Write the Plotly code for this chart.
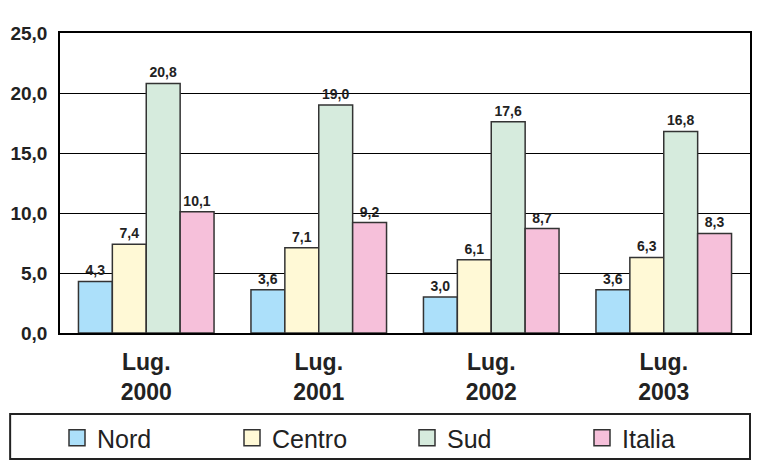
import plotly.graph_objects as go

categories = ["Lug.<br>2000", "Lug.<br>2001", "Lug.<br>2002", "Lug.<br>2003"]
nord = [4.3, 3.6, 3.0, 3.6]
centro = [7.4, 7.1, 6.1, 6.3]
sud = [20.8, 19.0, 17.6, 16.8]
italia = [10.1, 9.2, 8.7, 8.3]
series_names = ["Nord", "Centro", "Sud", "Italia"]
y_ticks = [0, 5, 10, 15, 20, 25]

colors = ["#ACE0FA", "#FFF9D6", "#D6EBDD", "#F6C0DA"]
edge = "#333333"

fig = go.Figure()
for name, vals, col in zip(series_names, [nord, centro, sud, italia], colors):
    fig.add_trace(go.Bar(
        x=categories, y=vals, name=name, showlegend=False,
        marker=dict(color=col, line=dict(color=edge, width=1.5)),
        texttemplate="%{y:.1f}", textposition="outside", cliponaxis=False,
        textfont=dict(family="Liberation Sans", size=14, color="#222222", weight="bold"),
    ))
# legend entries
for name, col in zip(series_names, colors):
    fig.add_trace(go.Scatter(
        x=[None], y=[None], mode="markers", name=name,
        marker=dict(symbol="square", size=16, color=col, line=dict(color=edge, width=1.5)),
    ))

fig.update_layout(
    width=757, height=467,
    margin=dict(l=60, r=5, t=33, b=134),
    paper_bgcolor="white", plot_bgcolor="white",
    separators=",.",
    barmode="group", bargap=0.214, bargroupgap=0,
    font=dict(family="Liberation Sans", color="#222222"),
    xaxis=dict(
        showgrid=False, showline=True, linecolor="black", linewidth=1.5, mirror=True,
        ticks="outside", ticklen=0, ticklabelstandoff=8,
        tickfont=dict(family="Liberation Sans", size=23, color="#222222", weight="bold"),
    ),
    yaxis=dict(
        range=[0, 25], tickvals=y_ticks, tickformat=".1f",
        showgrid=True, gridcolor="black", gridwidth=1,
        showline=True, linecolor="black", linewidth=1.5, mirror=True,
        ticks="outside", ticklen=0, ticklabelstandoff=7,
        tickfont=dict(family="Liberation Sans", size=19, color="#222222", weight="bold"),
        zeroline=False,
    ),
    legend=dict(
        orientation="h", x=-0.001, xanchor="left", y=-0.35, yanchor="middle",
        entrywidth=130, entrywidthmode="pixels",
        font=dict(family="Liberation Sans", size=25, color="#222222"),
        bgcolor="rgba(0,0,0,0)", borderwidth=0,
    ),
    shapes=[dict(
        type="rect", xref="paper", yref="paper",
        x0=(10 - 60) / 692, x1=(752 - 60) / 692,
        y0=(333 - 459) / 300, y1=(333 - 414) / 300,
        line=dict(color="#222222", width=2), fillcolor="rgba(0,0,0,0)",
    )],
)

fig.write_html("out.html")
